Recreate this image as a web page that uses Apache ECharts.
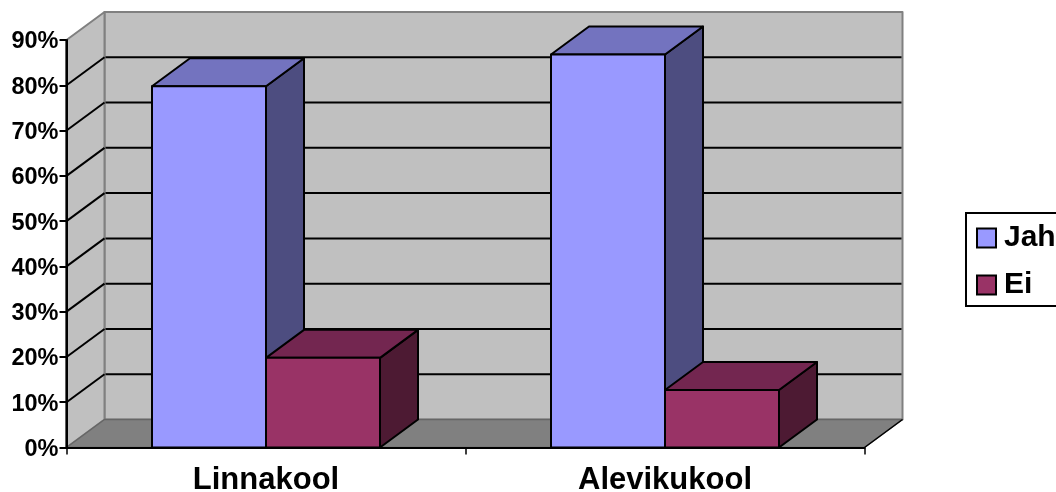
<!DOCTYPE html>
<html><head><meta charset="utf-8">
<style>html,body{margin:0;padding:0;background:#fff;overflow:hidden}#c{width:1056px;height:492px}</style>
<script src="https://cdn.jsdelivr.net/npm/echarts@6/dist/echarts.min.js"></script>
</head><body><div id="c"></div>
<script>
const categories = ['Linnakool', 'Alevikukool'];
const jah = [79.8, 86.8];
const ei = [19.8, 12.7];
const gridTicks = [10, 20, 30, 40, 50, 60, 70, 80];
const seriesNames = ['Jah', 'Ei'];
const jahColors = ['#9999FF', '#7373BF', '#4D4D80'];
const eiColors = ['#993366', '#732650', '#4D1A33'];
const DX = 38, DY = -28;
const FONT = '"Liberation Sans", Arial, sans-serif';

function poly(points, fill, stroke, width) {
  return { type: 'polygon', shape: { points }, style: { fill, stroke, lineWidth: width, lineJoin: 'round' } };
}
function seg(a, b, stroke, width) {
  return { type: 'line', shape: { x1: a[0], y1: a[1], x2: b[0], y2: b[1] }, style: { stroke, lineWidth: width } };
}
function renderWalls(params, api) {
  const c = params.coordSys;
  const x0 = c.x, x1 = c.x + c.width, y0 = c.y, y1 = c.y + c.height;
  return { type: 'group', children: [
    poly([[x0 + DX, y0 + DY], [x1 + DX, y0 + DY], [x1 + DX, y1 + DY], [x0 + DX, y1 + DY]], '#C0C0C0', '#808080', 2),
    poly([[x0, y0], [x0 + DX, y0 + DY], [x0 + DX, y1 + DY], [x0, y1]], '#C0C0C0', '#808080', 2),
    poly([[x0, y1], [x0 + DX, y1 + DY], [x1 + DX, y1 + DY], [x1, y1]], '#808080', '#666666', 1.5),
    seg([x1, y1], [x1 + DX, y1 + DY], '#000', 1.5),
    seg([x0, y0], [x0, y1], '#000', 2)
  ]};
}
function renderGrid(params, api) {
  const c = params.coordSys;
  const x0 = c.x, x1 = c.x + c.width;
  const y = api.coord([0, api.value(0)])[1];
  return { type: 'group', children: [
    seg([x0, y], [x0 + DX, y + DY], '#000', 2),
    seg([x0 + DX + 1, y + DY], [x1 + DX - 1, y + DY], '#000', 2)
  ]};
}
function renderBar(colors, side) {
  return function (params, api) {
    const idx = api.value(0), val = api.value(1);
    const center = api.coord([idx, 0]);
    const top = api.coord([idx, val])[1];
    const w = api.size([1, 0])[0] / 3.5;
    const l = side < 0 ? center[0] - w : center[0];
    const r = l + w, b = center[1];
    const s = '#000';
    return { type: 'group', children: [
      poly([[r, top], [r + DX, top + DY], [r + DX, b + DY], [r, b]], colors[2], s, 2),
      poly([[l, top], [l + DX, top + DY], [r + DX, top + DY], [r, top]], colors[1], s, 2),
      poly([[l, top], [r, top], [r, b], [l, b]], colors[0], s, 2)
    ]};
  };
}
const chart = echarts.init(document.getElementById('c'), null, { renderer: 'canvas' });
chart.setOption({
  animation: false,
  backgroundColor: '#fff',
  grid: { left: 66.5, right: 191.5, top: 40, bottom: 44.5, outerBoundsMode: 'none' },
  legend: {
    left: 966, top: 213, orient: 'vertical',
    padding: [10, 20, 6, 10], itemGap: 17, itemWidth: 19, itemHeight: 19,
    borderColor: '#000', borderWidth: 2, backgroundColor: '#fff',
    selectedMode: false,
    textStyle: { fontFamily: FONT, fontWeight: 'bold', fontSize: 30, color: '#000', padding: [0, 0, 0, 3] },
    data: [
      { name: seriesNames[0], icon: 'rect', itemStyle: { color: jahColors[0], borderColor: '#000', borderWidth: 2 } },
      { name: seriesNames[1], icon: 'rect', itemStyle: { color: eiColors[0], borderColor: '#000', borderWidth: 2 } }
    ]
  },
  xAxis: {
    type: 'category', data: categories, z: 10,
    axisLine: { lineStyle: { color: '#000', width: 2 } },
    axisTick: { show: true, length: 7, lineStyle: { color: '#000', width: 1.5 } },
    axisLabel: { fontFamily: FONT, fontWeight: 'bold', fontSize: 31, color: '#000', margin: 17 }
  },
  yAxis: {
    type: 'value', min: 0, max: 90, interval: 10, z: 10,
    axisLine: { show: true, lineStyle: { color: '#000', width: 2 } },
    axisTick: { show: true, length: 7, lineStyle: { color: '#000', width: 2 } },
    splitLine: { show: false },
    axisLabel: { formatter: '{value}%', fontFamily: FONT, fontWeight: 'bold', fontSize: 23.5, color: '#000', margin: 8, verticalAlign: 'top', lineHeight: 4 }
  },
  series: [
    { type: 'custom', silent: true, z: 1, data: [[0]], renderItem: renderWalls },
    { type: 'custom', silent: true, z: 2, data: gridTicks.map(v => [v]), renderItem: renderGrid },
    { type: 'custom', name: seriesNames[0], silent: true, z: 3, itemStyle: { color: jahColors[0] },
      data: jah.map((v, i) => [i, v]), renderItem: renderBar(jahColors, -1) },
    { type: 'custom', name: seriesNames[1], silent: true, z: 4, itemStyle: { color: eiColors[0] },
      data: ei.map((v, i) => [i, v]), renderItem: renderBar(eiColors, 1) }
  ]
});
</script></body></html>
